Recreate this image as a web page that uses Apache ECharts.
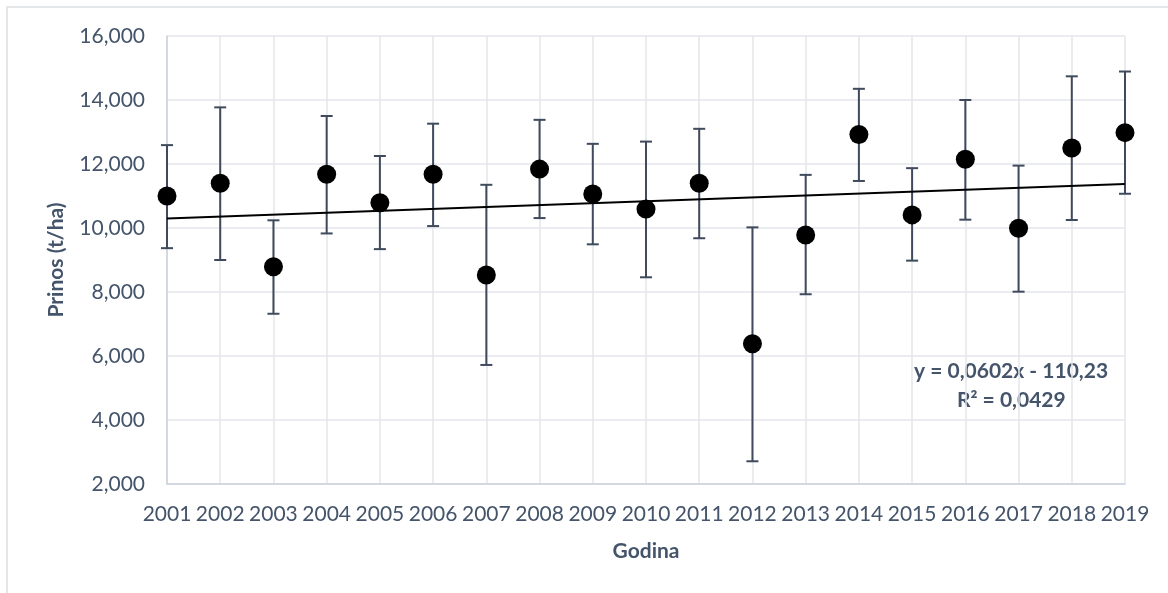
<!DOCTYPE html>
<html>
<head>
<meta charset="utf-8">
<title>Prinos</title>
<script src="https://cdn.jsdelivr.net/npm/echarts@6/dist/echarts.min.js"></script>
<style>
  html, body { margin: 0; padding: 0; background: #fff; }
  #chart { width: 1168px; height: 593px; }
</style>
</head>
<body>
<div id="chart"></div>
<script>
// godine i prosjecni prinos
const years = [2001, 2002, 2003, 2004, 2005, 2006, 2007, 2008, 2009, 2010,
  2011, 2012, 2013, 2014, 2015, 2016, 2017, 2018, 2019];
const yieldMean = [11000, 11400, 8790, 11680, 10790, 11680, 8530, 11840, 11060, 10590,
  11400, 6380, 9780, 12920, 10410, 12150, 9990, 12500, 12980];
// granice error barova
const yieldHigh = [12590, 13770, 10240, 13500, 12250, 13260, 11350, 13380, 12630, 12700,
  13100, 10020, 11660, 14350, 11870, 14000, 11950, 14740, 14890];
const yieldLow = [9370, 9000, 7320, 9830, 9340, 10060, 5720, 10310, 9490, 8460,
  9680, 2710, 7930, 11470, 8980, 10260, 8010, 10250, 11070];
const trendLabel = ["y = 0,0602x - 110,23", "R² = 0,0429"];

const textColor = "#44546A";
const font = "Lato, 'Open Sans', sans-serif";

// linearni trend (najmanji kvadrati)
const n = years.length;
const mx = years.reduce((a, b) => a + b, 0) / n;
const my = yieldMean.reduce((a, b) => a + b, 0) / n;
let sxy = 0, sxx = 0;
for (let i = 0; i < n; i++) {
  sxy += (years[i] - mx) * (yieldMean[i] - my);
  sxx += (years[i] - mx) * (years[i] - mx);
}
const slope = sxy / sxx;
const icpt = my - slope * mx;
const x0 = years[0], x1 = years[n - 1];
const trendData = [[x0, icpt + slope * x0], [x1, icpt + slope * x1]];

const errData = years.map((y, i) => [y, yieldLow[i], yieldHigh[i]]);
const pointData = years.map((y, i) => [y, yieldMean[i]]);

let myChart = echarts.init(document.getElementById("chart"));

myChart.setOption({
  animation: false,
  textStyle: { fontFamily: font },
  graphic: [
    {
      type: "rect",
      shape: { x: 7, y: 7, width: 1170, height: 600 },
      style: { fill: "none", stroke: "#dcdfe3", lineWidth: 1.5 },
      silent: true
    },
    {
      type: "text",
      left: 914,
      top: 361,
      style: {
        text: trendLabel[0],
        font: "bold 21px " + font,
        fill: textColor
      }
    },
    {
      type: "text",
      left: 957,
      top: 390,
      style: {
        text: trendLabel[1],
        font: "bold 21px " + font,
        fill: textColor
      }
    }
  ],
  grid: {
    left: 167,
    top: 36,
    width: 958,
    height: 448
  },
  xAxis: {
    type: "value",
    min: 2001,
    max: 2019,
    interval: 1,
    name: "Godina",
    nameLocation: "middle",
    nameGap: 57,
    nameTextStyle: { color: textColor, fontSize: 21, fontWeight: "bold", fontFamily: font },
    axisLine: { show: true, lineStyle: { color: "#ccd2db", width: 1.5 } },
    axisTick: { show: false },
    axisLabel: {
      color: textColor,
      fontSize: 21,
      margin: 20,
      formatter: function (v) { return String(v); }
    },
    splitLine: { show: true, lineStyle: { color: "#e3e6eb", width: 1.5 } }
  },
  yAxis: {
    type: "value",
    min: 2000,
    max: 16000,
    interval: 2000,
    name: "Prinos (t/ha)",
    nameLocation: "middle",
    nameRotate: 90,
    nameGap: 100,
    nameTextStyle: { color: textColor, fontSize: 21, fontWeight: "bold", fontFamily: font },
    axisLine: { show: true, lineStyle: { color: "#ccd2db", width: 1.5 } },
    axisTick: { show: false },
    axisLabel: { color: textColor, fontSize: 21, margin: 22 },
    splitLine: { show: true, lineStyle: { color: "#e3e6eb", width: 1.5 } }
  },
  series: [
    {
      type: "custom",
      name: "err",
      z: 2,
      renderItem: function (params, api) {
        const x = api.value(0);
        const lo = api.coord([x, api.value(1)]);
        const hi = api.coord([x, api.value(2)]);
        const cap = 6;
        const st = { stroke: "#3f4a5c", lineWidth: 2 };
        return {
          type: "group",
          children: [
            { type: "line", shape: { x1: lo[0], y1: lo[1], x2: hi[0], y2: hi[1] }, style: st },
            { type: "line", shape: { x1: hi[0] - cap, y1: hi[1], x2: hi[0] + cap, y2: hi[1] }, style: st },
            { type: "line", shape: { x1: lo[0] - cap, y1: lo[1], x2: lo[0] + cap, y2: lo[1] }, style: st }
          ]
        };
      },
      encode: { x: 0, y: [1, 2] },
      data: errData
    },
    {
      type: "line",
      name: "trend",
      z: 3,
      symbol: "none",
      lineStyle: { color: "#000", width: 2 },
      data: trendData
    },
    {
      type: "scatter",
      name: "prinos",
      z: 4,
      symbol: "circle",
      symbolSize: 19,
      itemStyle: { color: "#000", opacity: 1 },
      data: pointData
    }
  ]
});
</script>
</body>
</html>
